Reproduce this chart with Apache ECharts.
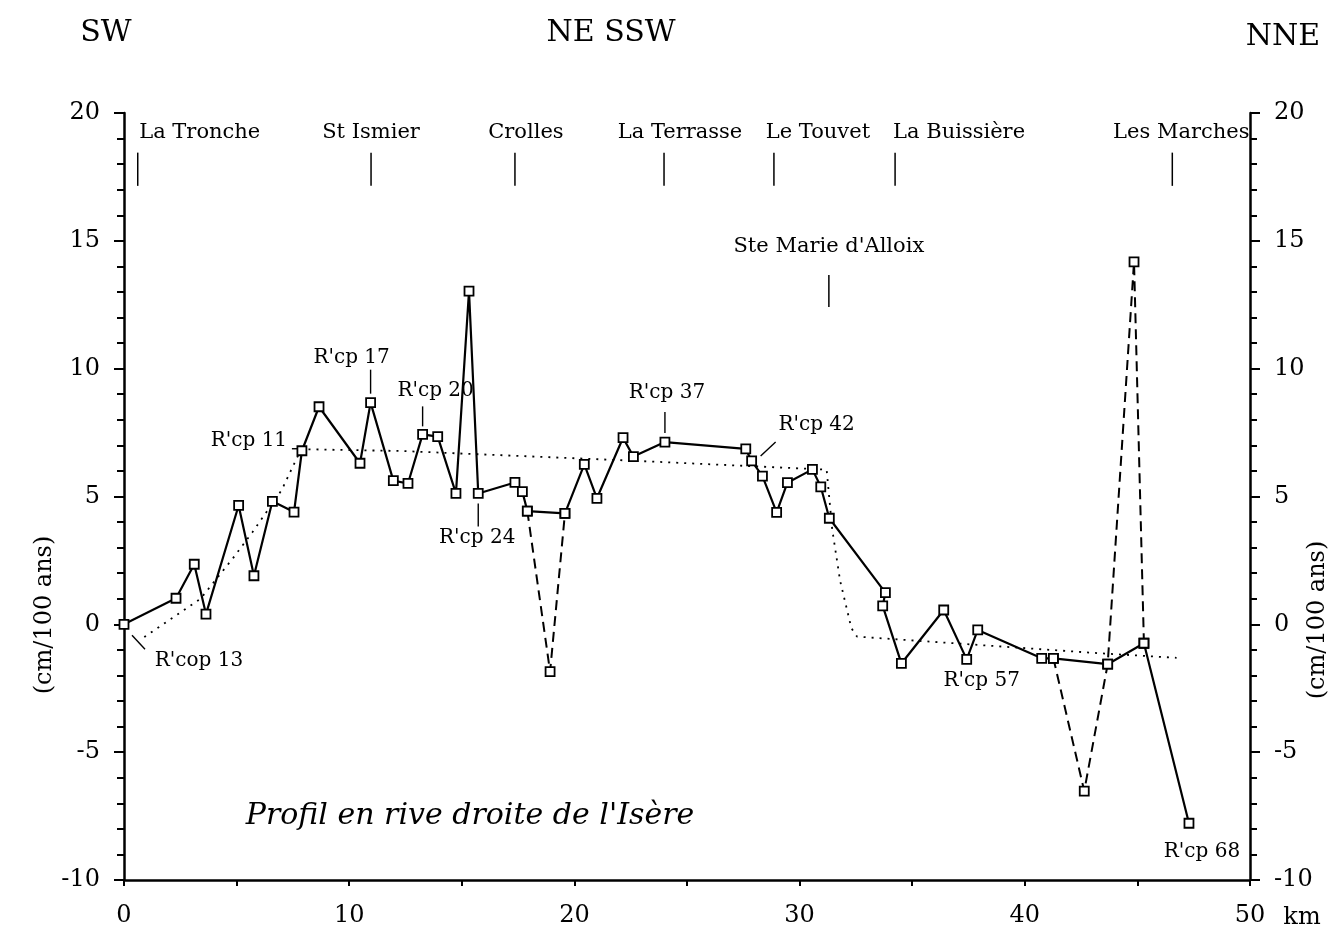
<!DOCTYPE html>
<html>
<head>
<meta charset="utf-8">
<title>Profil en rive droite de l'Isère</title>
<script src="https://cdn.jsdelivr.net/npm/echarts@6/dist/echarts.min.js"></script>
<style>
  html, body { margin: 0; padding: 0; background: #fff; }
  #chart { width: 1337px; height: 935px; }
</style>
</head>
<body>
<div id="chart"></div>
<script>
// Levelling profile: distance along the valley (km) and vertical rate (cm/100 ans)
const profileKm = [0, 2.31, 3.12, 3.64, 5.09, 5.77, 6.59, 7.55, 7.90, 8.66,
  10.48, 10.95, 11.96, 12.61, 13.26, 13.93, 14.74, 15.32, 15.73, 17.36,
  17.69, 17.91, 19.58, 20.44, 21.00, 22.16, 22.62, 24.02, 27.61, 27.87,
  28.35, 28.98, 29.46, 30.57, 30.94, 31.32, 33.81, 33.69, 34.52, 36.40,
  37.42, 37.91, 40.75, 41.27, 43.68, 45.29, 47.29];
const profileRate = [0, 1.02, 2.35, 0.40, 4.65, 1.90, 4.81, 4.39, 6.79, 8.51,
  6.30, 8.67, 5.62, 5.51, 7.43, 7.34, 5.12, 13.03, 5.12, 5.55,
  5.19, 4.43, 4.34, 6.26, 4.93, 7.30, 6.56, 7.13, 6.86, 6.39,
  5.80, 4.38, 5.54, 6.06, 5.38, 4.15, 1.24, 0.72, -1.53, 0.56,
  -1.37, -0.22, -1.33, -1.33, -1.56, -0.74, -7.78];

// Alternative readings (dashed)
const altAKm = [17.91, 18.92, 19.58];
const altARate = [4.43, -1.85, 4.34];
const altBKm = [41.27, 42.64, 43.68, 44.85, 45.29];
const altBRate = [-1.33, -6.52, -1.56, 14.18, -0.74];

// Smoothed trend (dotted)
const trendKm = [0.9, 3.4, 4.85, 5.7, 7.0, 7.7, 7.9, 12.3, 22.6, 31.2, 31.45, 31.8, 32.3, 32.55, 43.3, 46.74];
const trendRate = [-0.5, 1.0, 2.6, 3.6, 5.25, 6.55, 6.85, 6.78, 6.4, 6.05, 3.7, 1.7, -0.15, -0.48, -1.13, -1.31];

// Named benchmarks (index into the profile)
const benchNames = ["R'cop 13", "R'cp 11", "R'cp 17", "R'cp 20", "R'cp 24", "R'cp 37", "R'cp 42", "R'cp 57", "R'cp 68"];
const benchIndex = [0, 8, 11, 14, 18, 27, 29, 40, 46];

// Localities along the valley
const placeNames = ['La Tronche', 'St Ismier', 'Crolles', 'La Terrasse', 'Le Touvet', 'La Buissière', 'Les Marches', "Ste Marie d'Alloix"];
const placeKm = [0.61, 10.97, 17.36, 23.98, 28.86, 34.24, 46.55, 31.3];

// Axis ticks
const xTicks = [0, 10, 20, 30, 40, 50];
const yTicks = [-10, -5, 0, 5, 10, 15, 20];

const SERIF = "'DejaVu Serif', 'Liberation Serif', serif";
const INK = '#000';

// Label placement (pixel offsets from the benchmark point): text centre and leader line
const benchLayout = [
  { tx: 75, ty: 36, lead: [8, 11, 21, 25] },
  { tx: -53, ty: -10, lead: [-10, -2, -4, -2] },
  { tx: -19, ty: -45, lead: [0, -33, 0, -9] },
  { tx: 13, ty: -44, lead: [0, -28, 0, -8] },
  { tx: -1, ty: 44, lead: [0, 10, 0, 33] },
  { tx: 2, ty: -49, lead: [0, -30, 0, -9] },
  { tx: 65, ty: -36, lead: [9, -5, 24, -19] },
  { tx: 15, ty: 21, lead: null },
  { tx: 13, ty: 29, lead: null }
];
// Locality labels: horizontal text shift (px) and row (rate levels for text, tick top, tick bottom)
const placeShift = [62, 0, 11, 16, 44, 64, 9, 0];
const rows = [
  { text: 19.25, top: 18.45, bottom: 17.15 },
  { text: 14.78, top: 13.66, bottom: 12.41 }
];
const placeRow = [0, 0, 0, 0, 0, 0, 0, 1];

const pairs = (xs, ys) => xs.map((x, i) => [x, ys[i]]);

const chart = echarts.init(document.getElementById('chart'), null, { renderer: 'canvas' });

const yAxisBase = {
  type: 'value',
  min: yTicks[0],
  max: yTicks[yTicks.length - 1],
  interval: 5,
  axisLine: { show: true, onZero: false, lineStyle: { color: INK, width: 2.5 } },
  axisTick: { show: true, inside: false, length: 10, lineStyle: { color: INK, width: 2 } },
  minorTick: { show: true, splitNumber: 5, length: 7, lineStyle: { color: INK, width: 2 } },
  axisLabel: { show: true, margin: 24, fontSize: 24, fontFamily: SERIF, color: INK },
  splitLine: { show: false },
  minorSplitLine: { show: false }
};

const option = {
  animation: false,
  backgroundColor: '#fff',
  grid: { left: 124, right: 87, top: 113, bottom: 55, containLabel: false, outerBoundsMode: 'none' },
  xAxis: {
    type: 'value',
    min: xTicks[0],
    max: xTicks[xTicks.length - 1],
    interval: 10,
    axisLine: { show: true, onZero: false, lineStyle: { color: INK, width: 2.5 } },
    axisTick: { show: true, inside: false, length: 6, lineStyle: { color: INK, width: 2 } },
    minorTick: { show: true, splitNumber: 2, length: 6, lineStyle: { color: INK, width: 2 } },
    axisLabel: { show: true, margin: 24, fontSize: 24, fontFamily: SERIF, color: INK },
    splitLine: { show: false },
    minorSplitLine: { show: false }
  },
  yAxis: [
    Object.assign({}, yAxisBase, { position: 'left' }),
    Object.assign({}, yAxisBase, { position: 'right' })
  ],
  series: [
    {
      name: 'tendance',
      type: 'line',
      data: pairs(trendKm, trendRate),
      showSymbol: false,
      symbol: 'none',
      lineStyle: { color: INK, width: 1.8, type: [2, 6] },
      z: 1,
      silent: true
    },
    {
      name: 'variante A',
      type: 'line',
      data: pairs(altAKm, altARate),
      symbol: 'rect',
      symbolSize: 9,
      itemStyle: { color: '#fff', borderColor: INK, borderWidth: 1.8 },
      lineStyle: { color: INK, width: 2, type: [10, 6] },
      z: 2,
      silent: true
    },
    {
      name: 'variante B',
      type: 'line',
      data: pairs(altBKm, altBRate),
      symbol: 'rect',
      symbolSize: 9,
      itemStyle: { color: '#fff', borderColor: INK, borderWidth: 1.8 },
      lineStyle: { color: INK, width: 2, type: [10, 6] },
      z: 2,
      silent: true
    },
    {
      name: 'profil',
      type: 'line',
      data: pairs(profileKm, profileRate),
      symbol: 'rect',
      symbolSize: 9,
      itemStyle: { color: '#fff', borderColor: INK, borderWidth: 1.8 },
      lineStyle: { color: INK, width: 2.2 },
      z: 3,
      silent: true
    },
    {
      // benchmark names with leader lines
      name: 'repères',
      type: 'custom',
      coordinateSystem: 'cartesian2d',
      clip: false,
      silent: true,
      z: 4,
      encode: { x: 0, y: 1 },
      data: benchIndex.map((k, i) => [profileKm[k], profileRate[k], i]),
      renderItem: function (params, api) {
        const i = api.value(2);
        const p = api.coord([api.value(0), api.value(1)]);
        const lay = benchLayout[i];
        const children = [{
          type: 'text',
          x: p[0] + lay.tx,
          y: p[1] + lay.ty,
          style: { text: benchNames[i], fill: INK, font: '20px ' + SERIF, align: 'center', verticalAlign: 'middle' }
        }];
        if (lay.lead) {
          children.push({
            type: 'line',
            shape: { x1: p[0] + lay.lead[0], y1: p[1] + lay.lead[1], x2: p[0] + lay.lead[2], y2: p[1] + lay.lead[3] },
            style: { stroke: INK, lineWidth: 1.4 }
          });
        }
        return { type: 'group', children: children };
      }
    },
    {
      // localities with their position marks
      name: 'localités',
      type: 'custom',
      coordinateSystem: 'cartesian2d',
      clip: false,
      silent: true,
      z: 4,
      encode: { x: 0, y: 1 },
      data: placeKm.map((k, i) => [k, rows[placeRow[i]].top, i]),
      renderItem: function (params, api) {
        const i = api.value(2);
        const row = rows[placeRow[i]];
        const km = api.value(0);
        const top = api.coord([km, row.top]);
        const bottom = api.coord([km, row.bottom]);
        const t = api.coord([km, row.text]);
        return {
          type: 'group',
          children: [
            { type: 'line', shape: { x1: top[0], y1: top[1], x2: bottom[0], y2: bottom[1] }, style: { stroke: INK, lineWidth: 1.5 } },
            { type: 'text', x: t[0] + placeShift[i], y: t[1],
              style: { text: placeNames[i], fill: INK, font: '21px ' + SERIF, align: 'center', verticalAlign: 'middle' } }
          ]
        };
      }
    }
  ],
  graphic: [
    { type: 'text', x: 106, y: 33, style: { text: 'SW', fill: INK, font: '30px ' + SERIF, align: 'center', verticalAlign: 'middle' } },
    { type: 'text', x: 611, y: 33, style: { text: 'NE SSW', fill: INK, font: '30px ' + SERIF, align: 'center', verticalAlign: 'middle' } },
    { type: 'text', x: 1283, y: 37, style: { text: 'NNE', fill: INK, font: '30px ' + SERIF, align: 'center', verticalAlign: 'middle' } },
    { type: 'text', x: 45, y: 615, rotation: Math.PI / 2, style: { text: '(cm/100 ans)', fill: INK, font: '24px ' + SERIF, align: 'center', verticalAlign: 'middle' } },
    { type: 'text', x: 1318, y: 620, rotation: Math.PI / 2, style: { text: '(cm/100 ans)', fill: INK, font: '24px ' + SERIF, align: 'center', verticalAlign: 'middle' } },
    { type: 'text', x: 1302, y: 918, style: { text: 'km', fill: INK, font: '24px ' + SERIF, align: 'center', verticalAlign: 'middle' } },
    { type: 'text', x: 470, y: 816, style: { text: "Profil en rive droite de l'Isère", fill: INK, font: 'italic 30px ' + SERIF, align: 'center', verticalAlign: 'middle' } }
  ]
};

chart.setOption(option);
</script>
</body>
</html>
